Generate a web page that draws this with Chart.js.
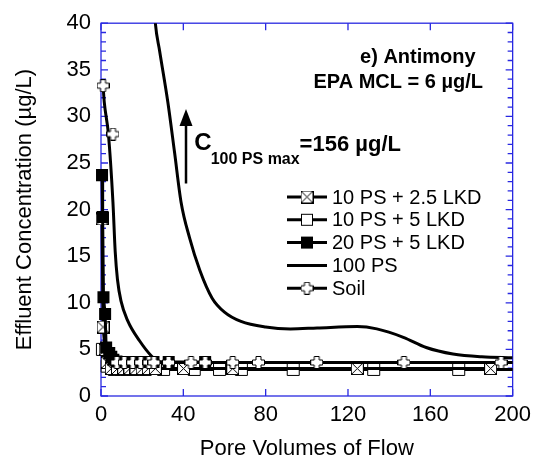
<!DOCTYPE html>
<html><head><meta charset="utf-8">
<script src="https://cdn.jsdelivr.net/npm/chart.js@4/dist/chart.umd.min.js"></script>
<style>html,body{margin:0;padding:0;background:#fff}</style>
</head><body>
<canvas id="c" width="537" height="465" style="width:537px;height:465px;display:block"></canvas>
<script>
// ---- data ----
const xTickLabels = [0, 40, 80, 120, 160, 200];
const yTickLabels = [0, 5, 10, 15, 20, 25, 30, 35, 40];
const seriesNames = ['10 PS + 2.5 LKD', '10 PS + 5 LKD', '20 PS + 5 LKD', '100 PS', 'Soil'];

const ps10lkd25X = [0.5, 1.0, 2.0, 3.0, 5.0, 8.0, 11.0, 14.0, 17.0, 20.0, 23.0, 26.4, 40.1, 64.0, 124.5, 189.3];
const ps10lkd25Y = [19.0, 7.4, 5.0, 3.6, 2.95, 2.95, 2.95, 2.95, 2.95, 2.95, 2.95, 2.95, 2.95, 2.95, 2.95, 2.95];

const ps10lkd5X = [0.7, 3.0, 6.5, 9.5, 12.5, 15.5, 18.5, 21.5, 30.4, 45.3, 57.6, 68.2, 93.4, 132.5, 173.8, 214];
const ps10lkd5Y = [5.0, 3.2, 2.85, 2.85, 2.85, 2.85, 2.85, 2.85, 2.85, 2.85, 2.85, 2.85, 2.85, 2.85, 2.85, 2.85];

const ps20lkd5X = [0.5, 0.8, 1.2, 2.0, 2.5, 4.0, 5.0, 6.0, 7.5, 9.5, 11.5, 13.5, 15.5, 17.5, 19.5, 21.5, 23.5, 25.5, 32.9, 50.6];
const ps20lkd5Y = [23.7, 19.2, 10.6, 8.8, 5.2, 4.6, 4.2, 3.9, 3.7, 3.65, 3.65, 3.65, 3.65, 3.65, 3.65, 3.65, 3.65, 3.65, 3.65, 3.65];

const ps100X = [18, 22, 26.4, 28.5, 32.5, 35.7, 38.9, 43, 48, 54, 60, 68, 80, 92, 105, 124.5, 134, 146.9, 158, 171, 185, 200];
const ps100Y = [90, 55, 40, 37, 31.5, 26.2, 20.8, 17, 13.5, 10.5, 9.0, 8.0, 7.4, 7.2, 7.3, 7.45, 7.2, 6.3, 5.2, 4.5, 4.2, 4.1];

const soilX = [1, 5.8, 7.7, 11.3, 15.4, 19.3, 23.3, 25.7, 32.8, 43.7, 50.6, 64, 76.5, 104.8, 147.2, 194.4];
const soilY = [33.3, 28.1, 3.6, 3.6, 3.6, 3.6, 3.6, 3.6, 3.6, 3.6, 3.6, 3.6, 3.6, 3.6, 3.6, 3.6];

const soilCurveX = [1, 1.6, 3.6, 5.8, 6.9, 8.0, 9.7, 13, 18.8, 24.5, 28, 32, 240];
const soilCurveY = [33.3, 31.5, 28.1, 20.8, 15.5, 12.5, 10.2, 8.06, 5.9, 4.3, 3.7, 3.6, 3.6];

// ---- helpers ----
const FONT = "'Liberation Sans', Arial, sans-serif";
const pts = (xs, ys) => xs.map((x, i) => ({x, y: ys[i]}));

function makeCrossBox(s) {
  const c = document.createElement('canvas'); c.width = s; c.height = s;
  const g = c.getContext('2d');
  g.fillStyle = '#fff'; g.fillRect(0.5, 0.5, s - 1, s - 1);
  g.strokeStyle = '#000'; g.lineWidth = 1;
  g.strokeRect(0.5, 0.5, s - 1, s - 1);
  g.beginPath(); g.moveTo(0.5, 0.5); g.lineTo(s - 0.5, s - 0.5);
  g.moveTo(s - 0.5, 0.5); g.lineTo(0.5, s - 0.5); g.stroke();
  return c;
}
function makePlus(s) {
  const c = document.createElement('canvas'); c.width = s; c.height = s;
  const g = c.getContext('2d');
  const a = Math.round(s * 0.32), b = s - a;
  g.beginPath();
  g.moveTo(a, 0.5); g.lineTo(b, 0.5); g.lineTo(b, a); g.lineTo(s - 0.5, a);
  g.lineTo(s - 0.5, b); g.lineTo(b, b); g.lineTo(b, s - 0.5); g.lineTo(a, s - 0.5);
  g.lineTo(a, b); g.lineTo(0.5, b); g.lineTo(0.5, a); g.lineTo(a, a); g.closePath();
  g.fillStyle = '#fff'; g.fill(); g.strokeStyle = '#000'; g.lineWidth = 1; g.stroke();
  return c;
}
const crossBox = makeCrossBox(13);
const plusMark = makePlus(13);

const AXIS_BLUE = 'rgb(40,40,225)';
const LW = 3;
const clipL = {left: 10, top: 0, right: 0, bottom: 10};

const framePlugin = {
  id: 'frame',
  beforeDatasetsDraw(chart) {
    const {ctx, chartArea: a, scales: {x, y}} = chart;
    ctx.save();
    ctx.strokeStyle = AXIS_BLUE; ctx.lineWidth = 1.3;
    ctx.strokeRect(a.left, a.top, a.right - a.left, a.bottom - a.top);
    ctx.beginPath();
    for (let v = 0; v <= 40; v++) {
      const py = y.getPixelForValue(v);
      const L = (v % 5 === 0) ? 7 : 5;
      ctx.moveTo(a.left, py); ctx.lineTo(a.left + L, py);
      ctx.moveTo(a.right, py); ctx.lineTo(a.right - L, py);
    }
    for (const v of xTickLabels) {
      const px = x.getPixelForValue(v);
      ctx.moveTo(px, a.bottom); ctx.lineTo(px, a.bottom - 7);
      ctx.moveTo(px, a.top); ctx.lineTo(px, a.top + 7);
    }
    ctx.stroke();
    ctx.restore();
  }
};

function drawMarker(ctx, kind, cx, cy) {
  if (kind === 'cross') ctx.drawImage(crossBox, cx - 6.5, cy - 6.5);
  else if (kind === 'plus') ctx.drawImage(plusMark, cx - 6.5, cy - 6.5);
  else if (kind === 'open') { ctx.fillStyle = '#fff'; ctx.fillRect(cx - 6, cy - 6, 12, 12); ctx.strokeStyle = '#000'; ctx.lineWidth = 1; ctx.strokeRect(cx - 5.5, cy - 5.5, 11, 11); }
  else if (kind === 'fill') { ctx.fillStyle = '#000'; ctx.fillRect(cx - 6, cy - 6, 12, 12); }
}

const annotPlugin = {
  id: 'annot',
  afterDatasetsDraw(chart) {
    const {ctx, scales: {x, y}} = chart;
    ctx.save();
    ctx.fillStyle = '#000';
    ctx.textBaseline = 'middle';
    ctx.font = "bold 20px " + FONT;
    ctx.textAlign = 'right';
    ctx.fillText('e) Antimony', x.getPixelForValue(182), y.getPixelForValue(36.3));
    ctx.fillText('EPA MCL = 6 \u00b5g/L', x.getPixelForValue(185.6), y.getPixelForValue(33.6));
    const ax = x.getPixelForValue(41.3), ay0 = y.getPixelForValue(22.8), ay1 = y.getPixelForValue(30.8);
    ctx.strokeStyle = '#000'; ctx.lineWidth = 2.5;
    ctx.beginPath(); ctx.moveTo(ax, ay0); ctx.lineTo(ax, ay1 + 14); ctx.stroke();
    ctx.beginPath(); ctx.moveTo(ax, ay1); ctx.lineTo(ax - 6.5, ay1 + 17); ctx.lineTo(ax + 6.5, ay1 + 17); ctx.closePath(); ctx.fill();
    ctx.textAlign = 'left';
    ctx.font = "bold 24px " + FONT;
    ctx.fillText('C', x.getPixelForValue(45.3), y.getPixelForValue(27.1));
    ctx.font = "bold 16px " + FONT;
    ctx.fillText('100 PS max', x.getPixelForValue(53.3), y.getPixelForValue(25.4));
    ctx.font = "bold 22px " + FONT;
    ctx.fillText('=156 \u00b5g/L', x.getPixelForValue(96.5), y.getPixelForValue(26.9));
    const kinds = ['cross', 'open', 'fill', null, 'plus'];
    ctx.font = "20px " + FONT;
    for (let i = 0; i < seriesNames.length; i++) {
      const ly = 197 + i * 22.8;
      ctx.strokeStyle = '#000'; ctx.lineWidth = LW;
      ctx.beginPath(); ctx.moveTo(287, ly); ctx.lineTo(327, ly); ctx.stroke();
      if (kinds[i]) drawMarker(ctx, kinds[i], 307, ly);
      ctx.fillStyle = '#000';
      ctx.fillText(seriesNames[i], 332, ly + 1);
    }
    ctx.restore();
  }
};

new Chart(document.getElementById('c'), {
  type: 'line',
  data: {
    datasets: [
      { label: seriesNames[4] + ' markers', data: pts(soilX, soilY), showLine: false,
        pointStyle: plusMark, pointRadius: 6.5, order: 0, clip: clipL },
      { label: seriesNames[2], data: pts(ps20lkd5X, ps20lkd5Y), borderColor: '#000', borderWidth: LW,
        pointStyle: 'rect', pointRadius: 8.5, pointBackgroundColor: '#000', pointBorderColor: '#000', pointBorderWidth: 0,
        tension: 0, order: 1, clip: clipL },
      { label: seriesNames[4], data: pts(soilCurveX, soilCurveY), borderColor: '#000', borderWidth: LW,
        pointRadius: 0, cubicInterpolationMode: 'monotone', order: 2, clip: clipL },
      { label: seriesNames[0], data: pts(ps10lkd25X, ps10lkd25Y), borderColor: '#000', borderWidth: LW,
        pointStyle: crossBox, pointRadius: 6.5, tension: 0, order: 3, clip: clipL },
      { label: seriesNames[1], data: pts(ps10lkd5X, ps10lkd5Y), borderColor: '#000', borderWidth: LW,
        pointStyle: 'rect', pointRadius: 8.5, pointBackgroundColor: '#fff', pointBorderColor: '#000', pointBorderWidth: 1,
        tension: 0, order: 4, clip: clipL },
      { label: seriesNames[3], data: pts(ps100X, ps100Y), borderColor: '#000', borderWidth: LW,
        pointRadius: 0, cubicInterpolationMode: 'monotone', order: 5, clip: 0 }
    ]
  },
  options: {
    responsive: false,
    animation: false,
    events: [],
    layout: { padding: { top: 20, right: 19, left: 0, bottom: 0 } },
    plugins: { legend: { display: false }, tooltip: { enabled: false } },
    scales: {
      x: {
        type: 'linear', min: 0, max: 200,
        afterFit: s => { s.height = 69; },
        afterBuildTicks: s => { s.ticks = xTickLabels.map(v => ({value: v})); },
        grid: { display: false, drawTicks: false },
        border: { display: false },
        ticks: { color: '#000', font: { family: FONT, size: 22 }, padding: 6, maxRotation: 0 },
        title: { display: true, text: 'Pore Volumes of Flow', color: '#000', font: { family: FONT, size: 22 }, padding: { top: 0, bottom: 3 } }
      },
      y: {
        type: 'linear', min: 0, max: 40,
        afterFit: s => { s.width = 101; },
        afterBuildTicks: s => { s.ticks = yTickLabels.map(v => ({value: v})); },
        grid: { display: false, drawTicks: false },
        border: { display: false },
        ticks: { color: '#000', font: { family: FONT, size: 22 }, padding: 10 },
        title: { display: true, text: 'Effluent Concentration (\u00b5g/L)', color: '#000', font: { family: FONT, size: 22 }, padding: { top: 12, bottom: 0 } }
      }
    }
  },
  plugins: [framePlugin, annotPlugin]
});
</script>
</body></html>
